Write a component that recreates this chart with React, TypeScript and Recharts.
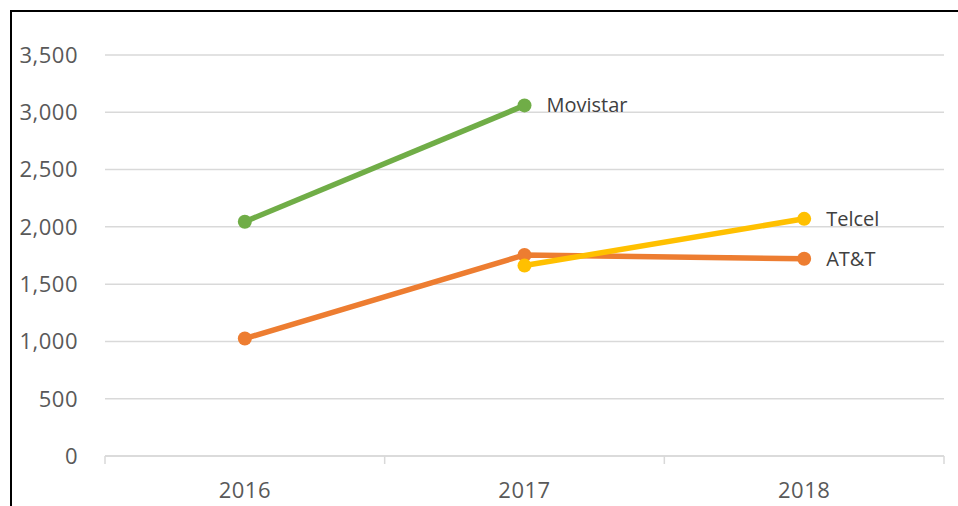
import React from 'react';
import { LineChart, Line, XAxis, YAxis, CartesianGrid, LabelList } from 'recharts';

const years = ['2016', '2017', '2018'];
const movistar = [2045, 3060, null];
const att = [1025, 1755, 1722];
const telcel = [null, 1662, 2070];
const yTicks = [0, 500, 1000, 1500, 2000, 2500, 3000, 3500];

const data = years.map((year, i) => ({
  year,
  Movistar: movistar[i],
  'AT&T': att[i],
  Telcel: telcel[i],
}));

const series = [
  { key: 'Movistar', color: '#70AD47', values: movistar },
  { key: 'AT&T', color: '#ED7D31', values: att },
  { key: 'Telcel', color: '#FFC000', values: telcel },
];

const lastIndex = (vals: (number | null)[]) => {
  let last = -1;
  vals.forEach((v, i) => {
    if (v != null) last = i;
  });
  return last;
};

const font = '"Open Sans", "Liberation Sans", sans-serif';
const gridColor = '#d9d9d9';

const makeLabel = (name: string, vals: (number | null)[]) => (props: any) => {
  const { x, y, index } = props;
  if (index !== lastIndex(vals)) return null;
  return (
    <text x={x + 22} y={y} dy={7} fill="#404040" fontSize={20} fontFamily={font}>
      {name}
    </text>
  );
};

// year label plus tick marks on the band edges
const YearTick = (props: any) => {
  const { x, y, payload, index } = props;
  const half = payload?.offset ?? 140;
  const top = 456;
  return (
    <g>
      <line x1={x - half} x2={x - half} y1={top} y2={top + 8} stroke={gridColor} strokeWidth={1.5} />
      {index === years.length - 1 && (
        <line x1={x + half} x2={x + half} y1={top} y2={top + 8} stroke={gridColor} strokeWidth={1.5} />
      )}
      <text x={x} y={y} dy={42} textAnchor="middle" fill="#595959" fontSize={22} fontFamily={font} letterSpacing={0.5}>
        {payload.value}
      </text>
    </g>
  );
};

const App: React.FC = () => {
  return (
    <div style={{ position: 'fixed', left: 0, top: 0, width: 958, height: 506, background: '#fff', overflow: 'hidden' }}>
      <div
        style={{
          position: 'absolute',
          left: 10,
          top: 10,
          width: 1000,
          height: 600,
          borderLeft: '2px solid #000',
          borderTop: '2px solid #000',
        }}
      />
      <LineChart
        width={958}
        height={506}
        data={data}
        margin={{ top: 55, right: 14, bottom: 0, left: 0 }}
        style={{ position: 'absolute', left: 0, top: 0 }}
      >
        <CartesianGrid vertical={false} stroke={gridColor} strokeWidth={1.5} />
        <XAxis
          dataKey="year"
          scale="band"
          height={50}
          axisLine={{ stroke: gridColor, strokeWidth: 1.5 }}
          tickLine={false}
          tickSize={0}
          tickMargin={0}
          tick={<YearTick />}
        />
        <YAxis
          width={105}
          domain={[0, 3500]}
          ticks={yTicks}
          axisLine={false}
          tickLine={false}
          tickSize={0}
          tickMargin={27}
          tickFormatter={(v: number) => v.toLocaleString('en-US')}
          tick={{ fontSize: 22, fill: '#595959', fontFamily: font, letterSpacing: 0.5 }}
        />
        {series.map((s) => (
          <Line
            key={s.key}
            dataKey={s.key}
            stroke={s.color}
            strokeWidth={5.5}
            dot={{ r: 7, fill: s.color, stroke: s.color, strokeWidth: 0 }}
            activeDot={false}
            connectNulls={false}
            isAnimationActive={false}
          >
            <LabelList dataKey={s.key} content={makeLabel(s.key, s.values)} />
          </Line>
        ))}
      </LineChart>
    </div>
  );
};

export default App;
